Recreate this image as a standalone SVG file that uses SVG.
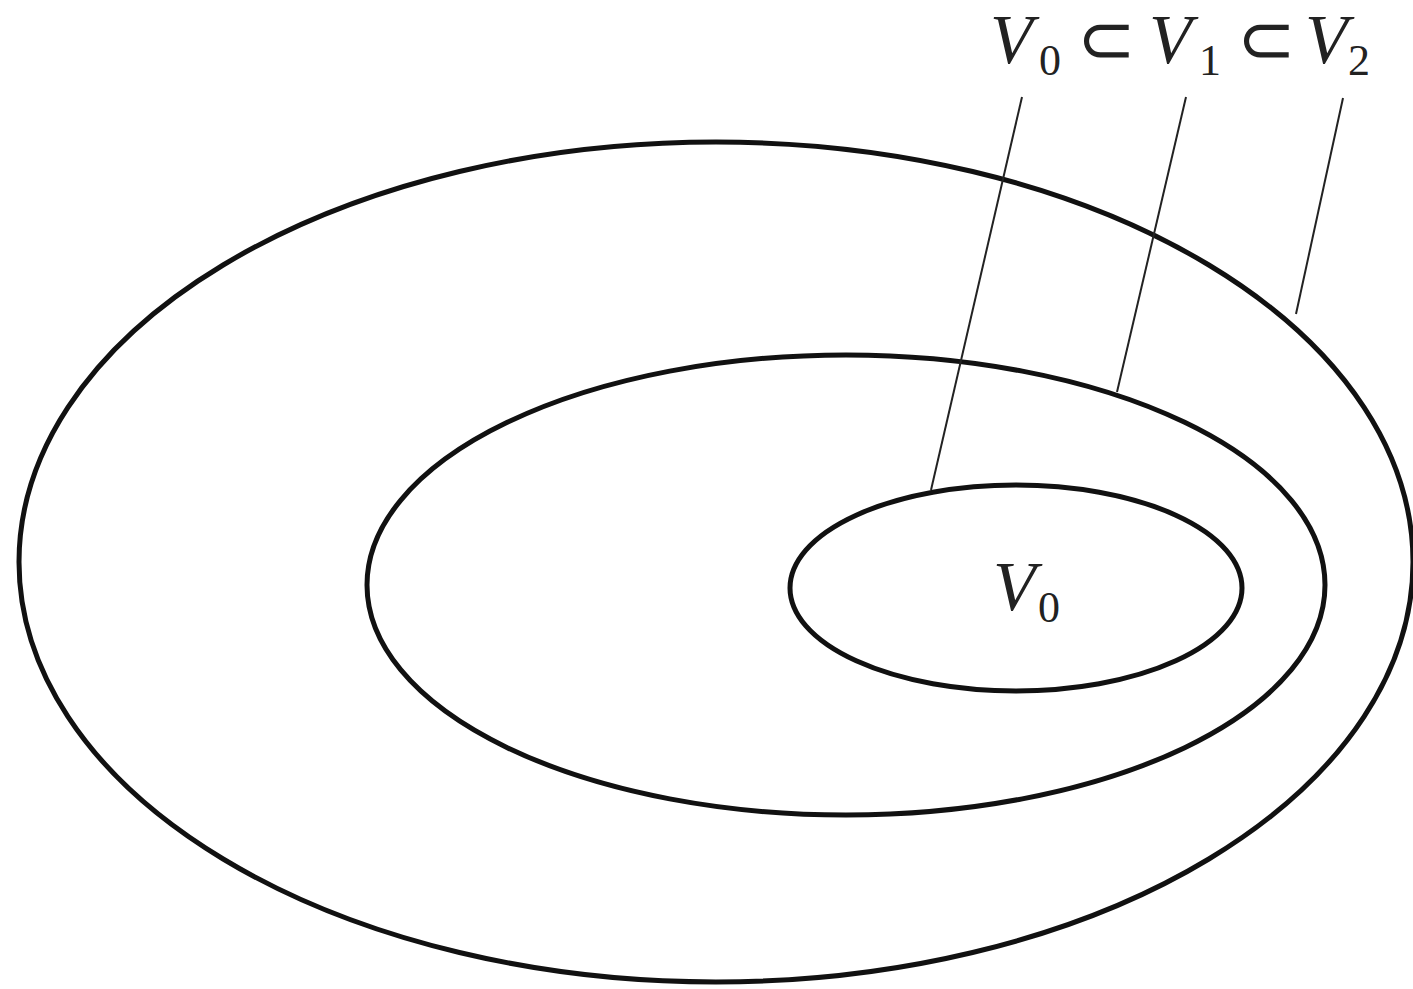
<svg xmlns="http://www.w3.org/2000/svg" width="1413" height="989" viewBox="0 0 1413 989">
<style>
.set{fill:none;stroke:#111;stroke-width:5}
.lead{stroke:#222;stroke-width:2;fill:none}
.lbl{font-family:"Liberation Serif",serif;font-size:70px;fill:#222}
.it{font-style:italic}
.sub{font-size:44px}
</style>
<rect width="1413" height="989" fill="#fff"/>
<g id="V2"><ellipse class="set" cx="716" cy="562" rx="697" ry="420"/></g>
<g id="V1"><ellipse class="set" cx="846" cy="585" rx="479" ry="230"/></g>
<g id="V0"><ellipse class="set" cx="1016" cy="588" rx="226" ry="103"/>
<text class="lbl" x="993" y="610"><tspan class="it">V</tspan><tspan class="sub" x="1038" y="622">0</tspan></text></g>
<g id="connectors">
<line class="lead" x1="1022" y1="97" x2="931" y2="490"/>
<line class="lead" x1="1186" y1="97" x2="1117" y2="392"/>
<line class="lead" x1="1343" y1="98" x2="1296" y2="314"/>
</g>
<g id="label">
<text class="lbl" y="63"><tspan class="it" x="990">V</tspan><tspan class="sub" x="1039" y="75">0</tspan><tspan x="1077" y="63">⊂</tspan><tspan class="it" x="1149">V</tspan><tspan class="sub" x="1199" y="75">1</tspan><tspan x="1237" y="63">⊂</tspan><tspan class="it" x="1305">V</tspan><tspan class="sub" x="1348" y="75">2</tspan></text>
</g>
</svg>
